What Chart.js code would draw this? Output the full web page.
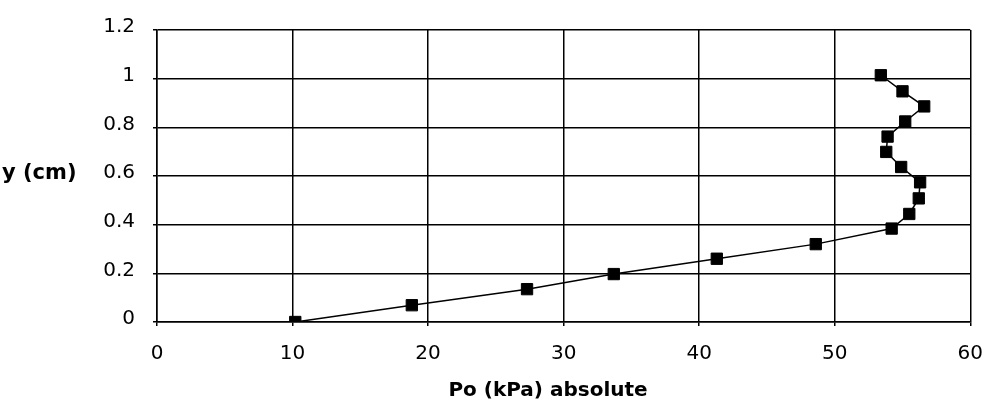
<!DOCTYPE html>
<html>
<head>
<meta charset="utf-8">
<script src="https://cdn.jsdelivr.net/npm/chart.js@4"></script>
<style>
  html, body { margin: 0; padding: 0; background: #fff; }
  #wrap { width: 999px; height: 419px; }
</style>
</head>
<body>
<div id="wrap"><canvas id="profile-chart"></canvas></div>
<script>
// values
const pressure = [53.4, 55.0, 56.6, 55.2, 53.9, 53.8, 54.9, 56.3, 56.2, 55.5, 54.2, 48.6, 41.3, 33.7, 27.3, 18.8, 10.2];
const height   = [1.014, 0.948, 0.886, 0.824, 0.762, 0.699, 0.637, 0.574, 0.508, 0.444, 0.384, 0.320, 0.260, 0.197, 0.135, 0.069, 0.0];
const xTitle = 'Po (kPa) absolute';
const yTitle = 'y (cm)';

const FONT = '"DejaVu Sans", "Liberation Sans", sans-serif';

const points = pressure.map((p, i) => ({ x: p, y: height[i] }));

// both axis titles are drawn by hand: the y one is horizontal, the x one sits left of centre
const titlesPlugin = {
    id: 'axisTitles',
    afterDraw(chart) {
        const c = chart.ctx;
        c.save();
        c.fillStyle = '#000';
        c.textBaseline = 'middle';
        c.font = 'bold 21px ' + FONT;
        c.textAlign = 'left';
        c.fillText(yTitle, 2, chart.scales.y.getPixelForValue(0.6) - 2);
        c.font = 'bold 20px ' + FONT;
        c.textAlign = 'center';
        c.fillText(xTitle, 548, 391);
        c.restore();
    }
};

const ctx = document.getElementById('profile-chart').getContext('2d');
const chart = new Chart(ctx, {
    type: 'scatter',
    data: {
        datasets: [{
            data: points,
            showLine: true,
            borderColor: '#000',
            borderWidth: 1.5,
            backgroundColor: '#000',
            pointStyle: 'rect',
            pointRadius: 8,
            pointBorderWidth: 1,
            pointBorderColor: '#000',
            tension: 0
        }]
    },
    options: {
        responsive: true,
        maintainAspectRatio: false,
        animation: false,
        layout: {
            padding: { top: 25, right: 12, left: 0, bottom: 0 }
        },
        scales: {
            x: {
                type: 'linear',
                min: 0,
                max: 60,
                ticks: {
                    stepSize: 10,
                    color: '#000',
                    font: { family: FONT, size: 20 },
                    padding: 16
                },
                grid: { color: '#000', lineWidth: 1.5, tickLength: 4 },
                border: { color: '#000', width: 1.5 },
                afterFit: function (scale) { scale.height = 97; }
            },
            y: {
                min: 0,
                max: 1.2,
                ticks: {
                    stepSize: 0.2,
                    color: '#000',
                    font: { family: FONT, size: 20 },
                    padding: 18,
                    labelOffset: -3,
                    callback: function (value) {
                        return Math.round(value * 10) / 10;
                    }
                },
                grid: { color: '#000', lineWidth: 1.5, tickLength: 4 },
                border: { color: '#000', width: 1.5 },
                afterFit: function (scale) { scale.width = 157; }
            }
        },
        plugins: {
            legend: { display: false },
            tooltip: { enabled: false }
        }
    },
    plugins: [titlesPlugin]
});
</script>
</body>
</html>
